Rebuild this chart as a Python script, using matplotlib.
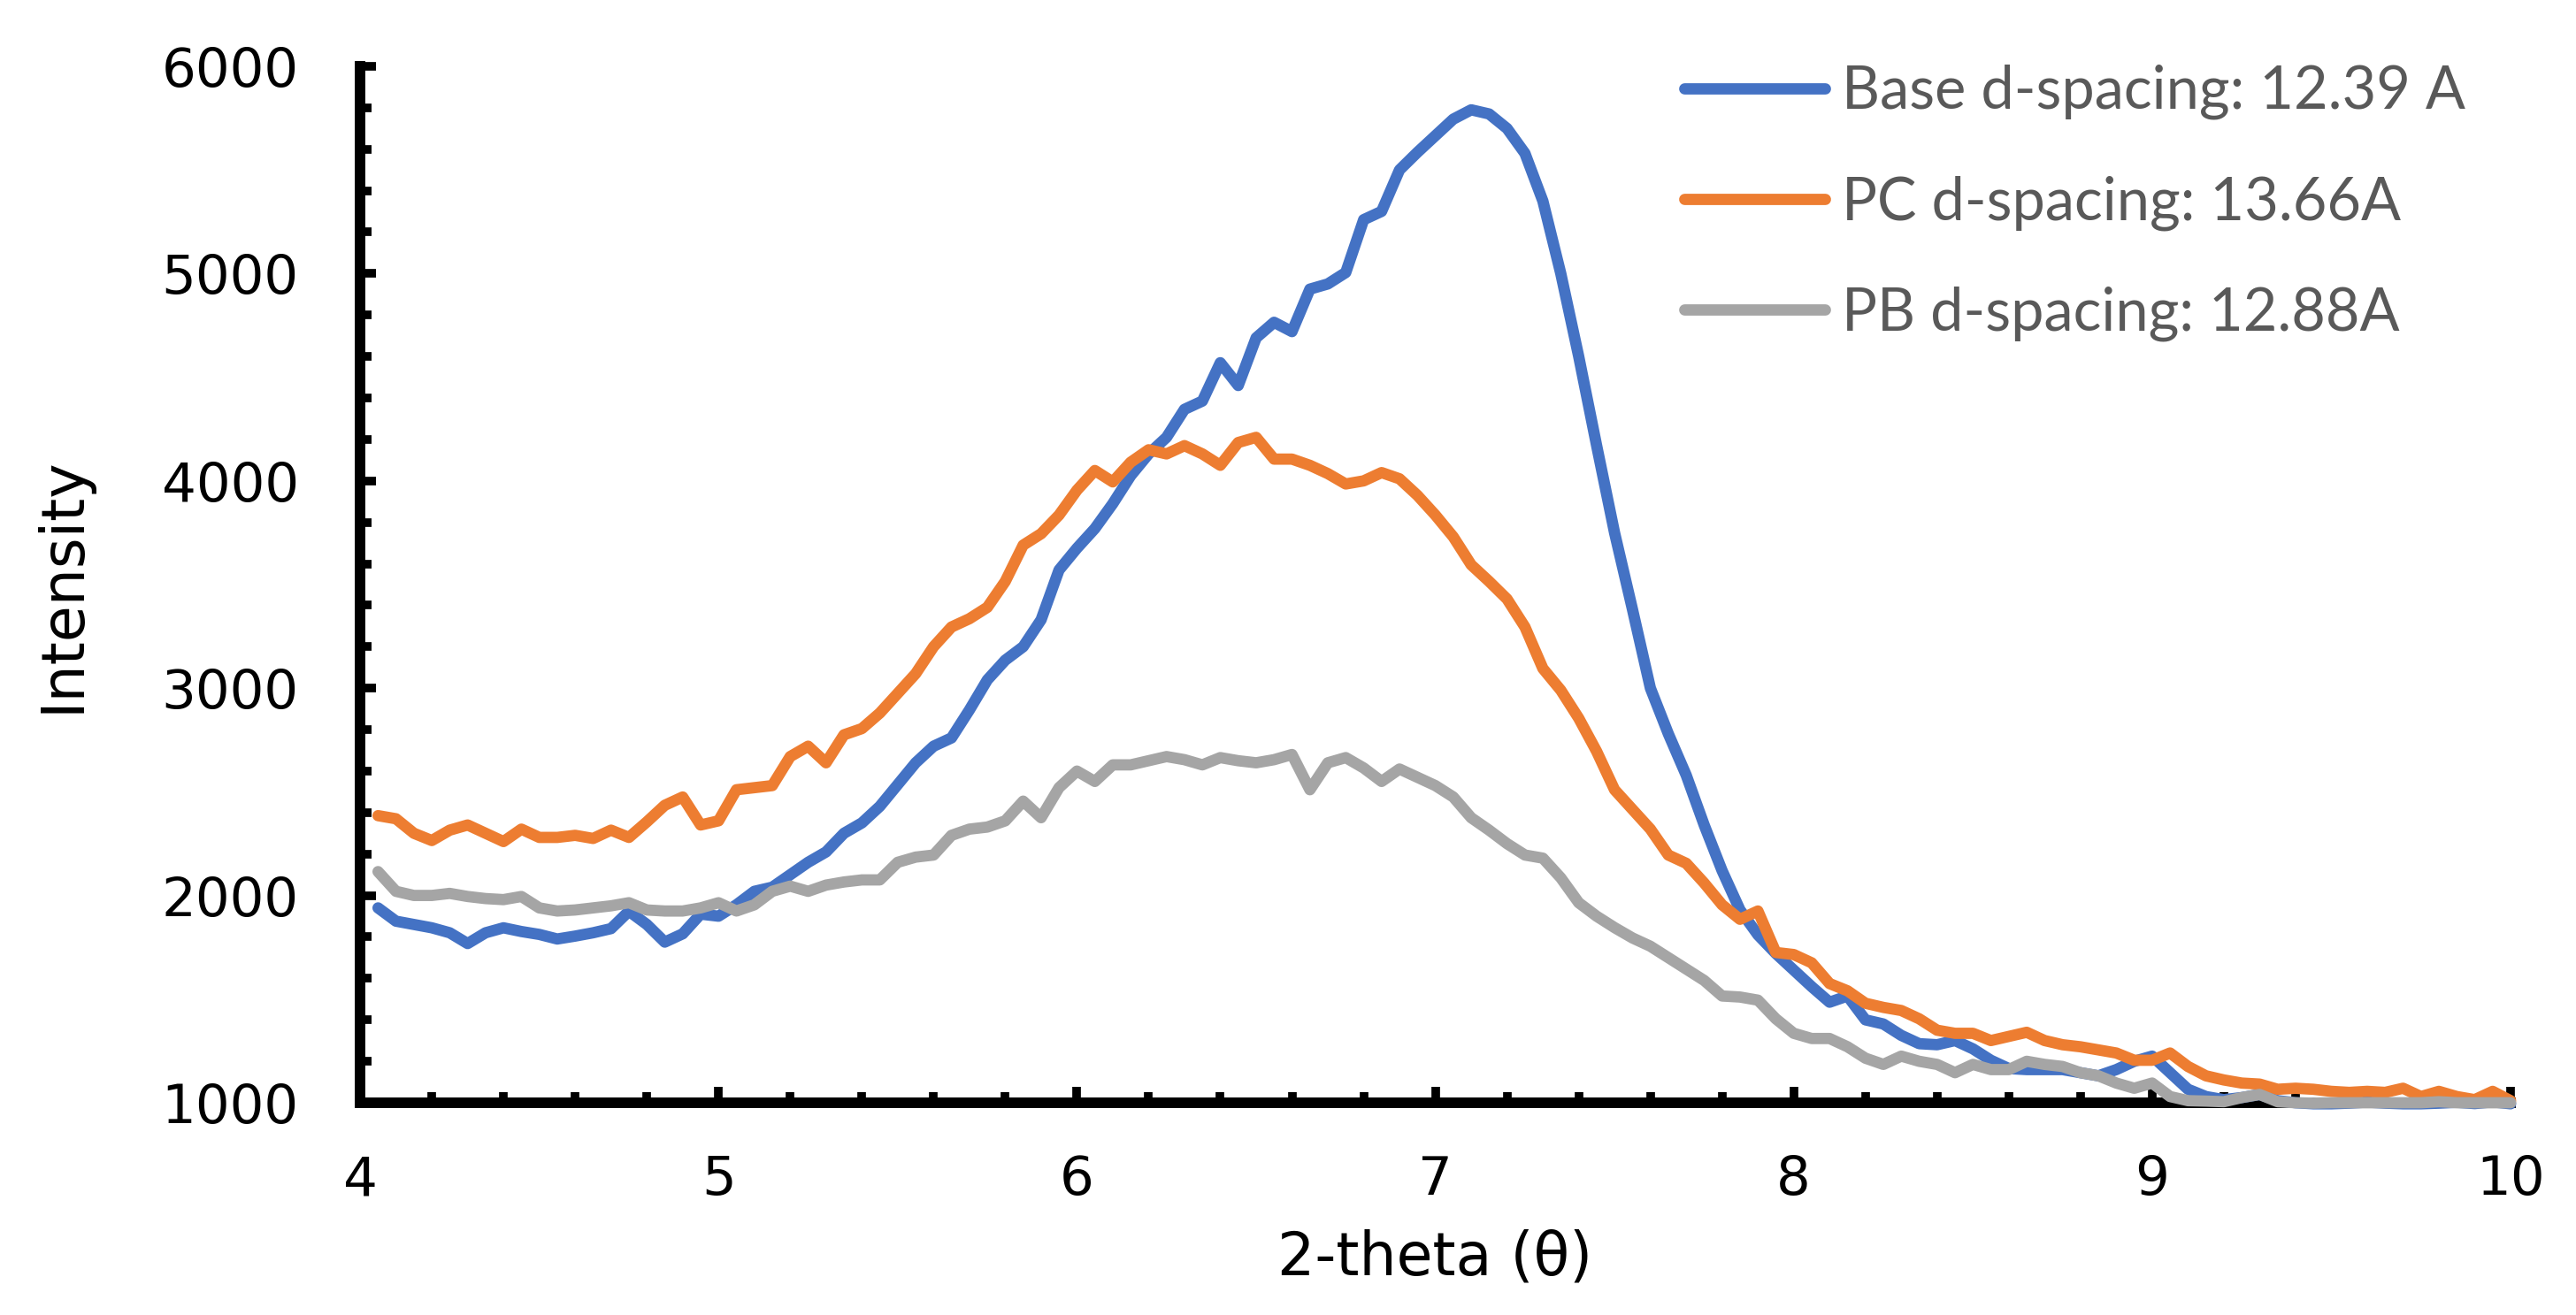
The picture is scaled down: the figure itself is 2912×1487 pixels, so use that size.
import matplotlib
matplotlib.use("Agg")
import matplotlib.pyplot as plt
from matplotlib.ticker import MultipleLocator

# 2-theta positions (degrees)
theta = [4.05, 4.10, 4.15, 4.20, 4.25, 4.30, 4.35, 4.40, 4.45, 4.50,
         4.55, 4.60, 4.65, 4.70, 4.75, 4.80, 4.85, 4.90, 4.95, 5.00,
         5.05, 5.10, 5.15, 5.20, 5.25, 5.30, 5.35, 5.40, 5.45, 5.50,
         5.55, 5.60, 5.65, 5.70, 5.75, 5.80, 5.85, 5.90, 5.95, 6.00,
         6.05, 6.10, 6.15, 6.20, 6.25, 6.30, 6.35, 6.40, 6.45, 6.50,
         6.55, 6.60, 6.65, 6.70, 6.75, 6.80, 6.85, 6.90, 6.95, 7.00,
         7.05, 7.10, 7.15, 7.20, 7.25, 7.30, 7.35, 7.40, 7.45, 7.50,
         7.55, 7.60, 7.65, 7.70, 7.75, 7.80, 7.85, 7.90, 7.95, 8.00,
         8.05, 8.10, 8.15, 8.20, 8.25, 8.30, 8.35, 8.40, 8.45, 8.50,
         8.55, 8.60, 8.65, 8.70, 8.75, 8.80, 8.85, 8.90, 8.95, 9.00,
         9.05, 9.10, 9.15, 9.20, 9.25, 9.30, 9.35, 9.40, 9.45, 9.50,
         9.55, 9.60, 9.65, 9.70, 9.75, 9.80, 9.85, 9.90, 9.95, 10.00]

base = [1940, 1876, 1860, 1844, 1820, 1768, 1820, 1844, 1826, 1812,
        1790, 1804, 1820, 1840, 1924, 1860, 1775, 1815, 1910, 1900,
        1955, 2020, 2040, 2100, 2160, 2210, 2300, 2350, 2430, 2535,
        2640, 2720, 2760, 2895, 3040, 3135, 3200, 3330, 3570, 3675,
        3770, 3890, 4025, 4130, 4210, 4345, 4385, 4570, 4460, 4690,
        4765, 4720, 4925, 4950, 5005, 5260, 5300, 5500, 5585, 5665,
        5745, 5790, 5770, 5700, 5580, 5350, 5000, 4600, 4170, 3750,
        3380, 3000, 2780, 2580, 2340, 2120, 1930, 1810, 1720, 1640,
        1560, 1485, 1515, 1400, 1380, 1325, 1285, 1280, 1300, 1260,
        1205, 1165, 1160, 1160, 1160, 1145, 1130, 1160, 1200, 1225,
        1145, 1065, 1030, 1015, 1025, 1040, 1010, 1000, 995, 995,
        998, 1003, 998, 995, 995, 998, 1002, 996, 1004, 995]

pc = [2385, 2370, 2300, 2265, 2315, 2340, 2300, 2260, 2320, 2280,
      2280, 2290, 2275, 2315, 2280, 2355, 2435, 2475, 2340, 2360,
      2510, 2520, 2530, 2670, 2720, 2640, 2775, 2805, 2880, 2975,
      3070, 3200, 3295, 3335, 3390, 3515, 3690, 3745, 3835, 3955,
      4050, 3995, 4090, 4150, 4130, 4170, 4130, 4075, 4185, 4210,
      4105, 4105, 4075, 4035, 3985, 4000, 4040, 4010, 3930, 3835,
      3730, 3595, 3515, 3430, 3295, 3095, 2990, 2855, 2695, 2510,
      2415, 2320, 2195, 2155, 2060, 1955, 1885, 1925, 1725, 1715,
      1675, 1575, 1540, 1480, 1460, 1445, 1405, 1350, 1335, 1335,
      1300, 1320, 1340, 1300, 1280, 1270, 1255, 1240, 1205, 1205,
      1240, 1175, 1130, 1110, 1095, 1090, 1065, 1070, 1065, 1055,
      1050, 1055, 1050, 1070, 1030, 1055, 1030, 1015, 1055, 1010]

pb = [2115, 2020, 2000, 2000, 2010, 1995, 1985, 1980, 1995, 1940,
      1925, 1930, 1940, 1950, 1965, 1930, 1925, 1925, 1940, 1965,
      1925, 1955, 2020, 2045, 2020, 2050, 2065, 2075, 2075, 2160,
      2185, 2195, 2290, 2320, 2330, 2360, 2455, 2375, 2520, 2600,
      2550, 2630, 2630, 2650, 2670, 2655, 2630, 2665, 2650, 2640,
      2655, 2680, 2510, 2640, 2665, 2615, 2550, 2610, 2570, 2530,
      2475, 2375, 2315, 2250, 2195, 2180, 2085, 1965, 1900, 1845,
      1795, 1755, 1700, 1645, 1590, 1515, 1510, 1495, 1405, 1335,
      1310, 1310, 1270, 1215, 1185, 1225, 1200, 1185, 1145, 1185,
      1160, 1160, 1200, 1185, 1175, 1145, 1130, 1095, 1070, 1095,
      1030, 1010, 1008, 1005, 1025, 1040, 1005, 1000, 998, 1000,
      1000, 1000, 1000, 1000, 1000, 1005, 1000, 1000, 1000, 1000]

series_labels = ["Base d-spacing: 12.39 A", "PC d-spacing: 13.66A", "PB d-spacing: 12.88A"]
series_colors = ["#4472C4", "#ED7D31", "#A5A5A5"]
x_label = "2-theta (\u03b8)"
y_label = "Intensity"

fig = plt.figure(figsize=(14.56, 7.435), dpi=200)
ax = fig.add_axes([0.1398, 0.1614, 0.8348, 0.7882])

for vals, col, lab in zip([base, pc, pb], series_colors, series_labels):
    ax.plot(theta, vals, color=col, lw=4.6, label=lab, zorder=3, clip_on=False,
            solid_joinstyle="round", solid_capstyle="round")

ax.set_xlim(4, 10)
ax.set_ylim(1000, 6000)
for s in ["top", "right"]:
    ax.spines[s].set_visible(False)
for s in ["left", "bottom"]:
    ax.spines[s].set_linewidth(4.3)

ax.xaxis.set_major_locator(MultipleLocator(1))
ax.xaxis.set_minor_locator(MultipleLocator(0.2))
ax.yaxis.set_major_locator(MultipleLocator(1000))
ax.yaxis.set_minor_locator(MultipleLocator(200))

ax.tick_params(which="major", direction="in", length=6.5, width=3.5,
               labelsize=22, colors="black")
ax.tick_params(which="minor", direction="in", length=4.5, width=3.5)
ax.tick_params(axis="x", which="major", pad=21)
ax.tick_params(axis="y", which="major", pad=25)

fig.text(71 / 2912, 0.5555, y_label, rotation=90, ha="center", va="center",
         fontsize=24, color="black")
fig.text(0.557, 1 - 1422 / 1487, x_label, ha="center", va="center",
         fontsize=24, color="black")

leg = ax.legend(loc="upper left", bbox_to_anchor=(0.654, 0.951),
                bbox_transform=fig.transFigure, frameon=False,
                borderpad=0, borderaxespad=0, handlelength=2.38,
                handletextpad=0.28, labelspacing=0.94,
                prop={"family": "Lato", "size": 24})
for t in leg.get_texts():
    t.set_color("#595959")
for h in leg.get_lines():
    h.set_solid_capstyle("round")

fig.savefig("out.png", dpi=200)
